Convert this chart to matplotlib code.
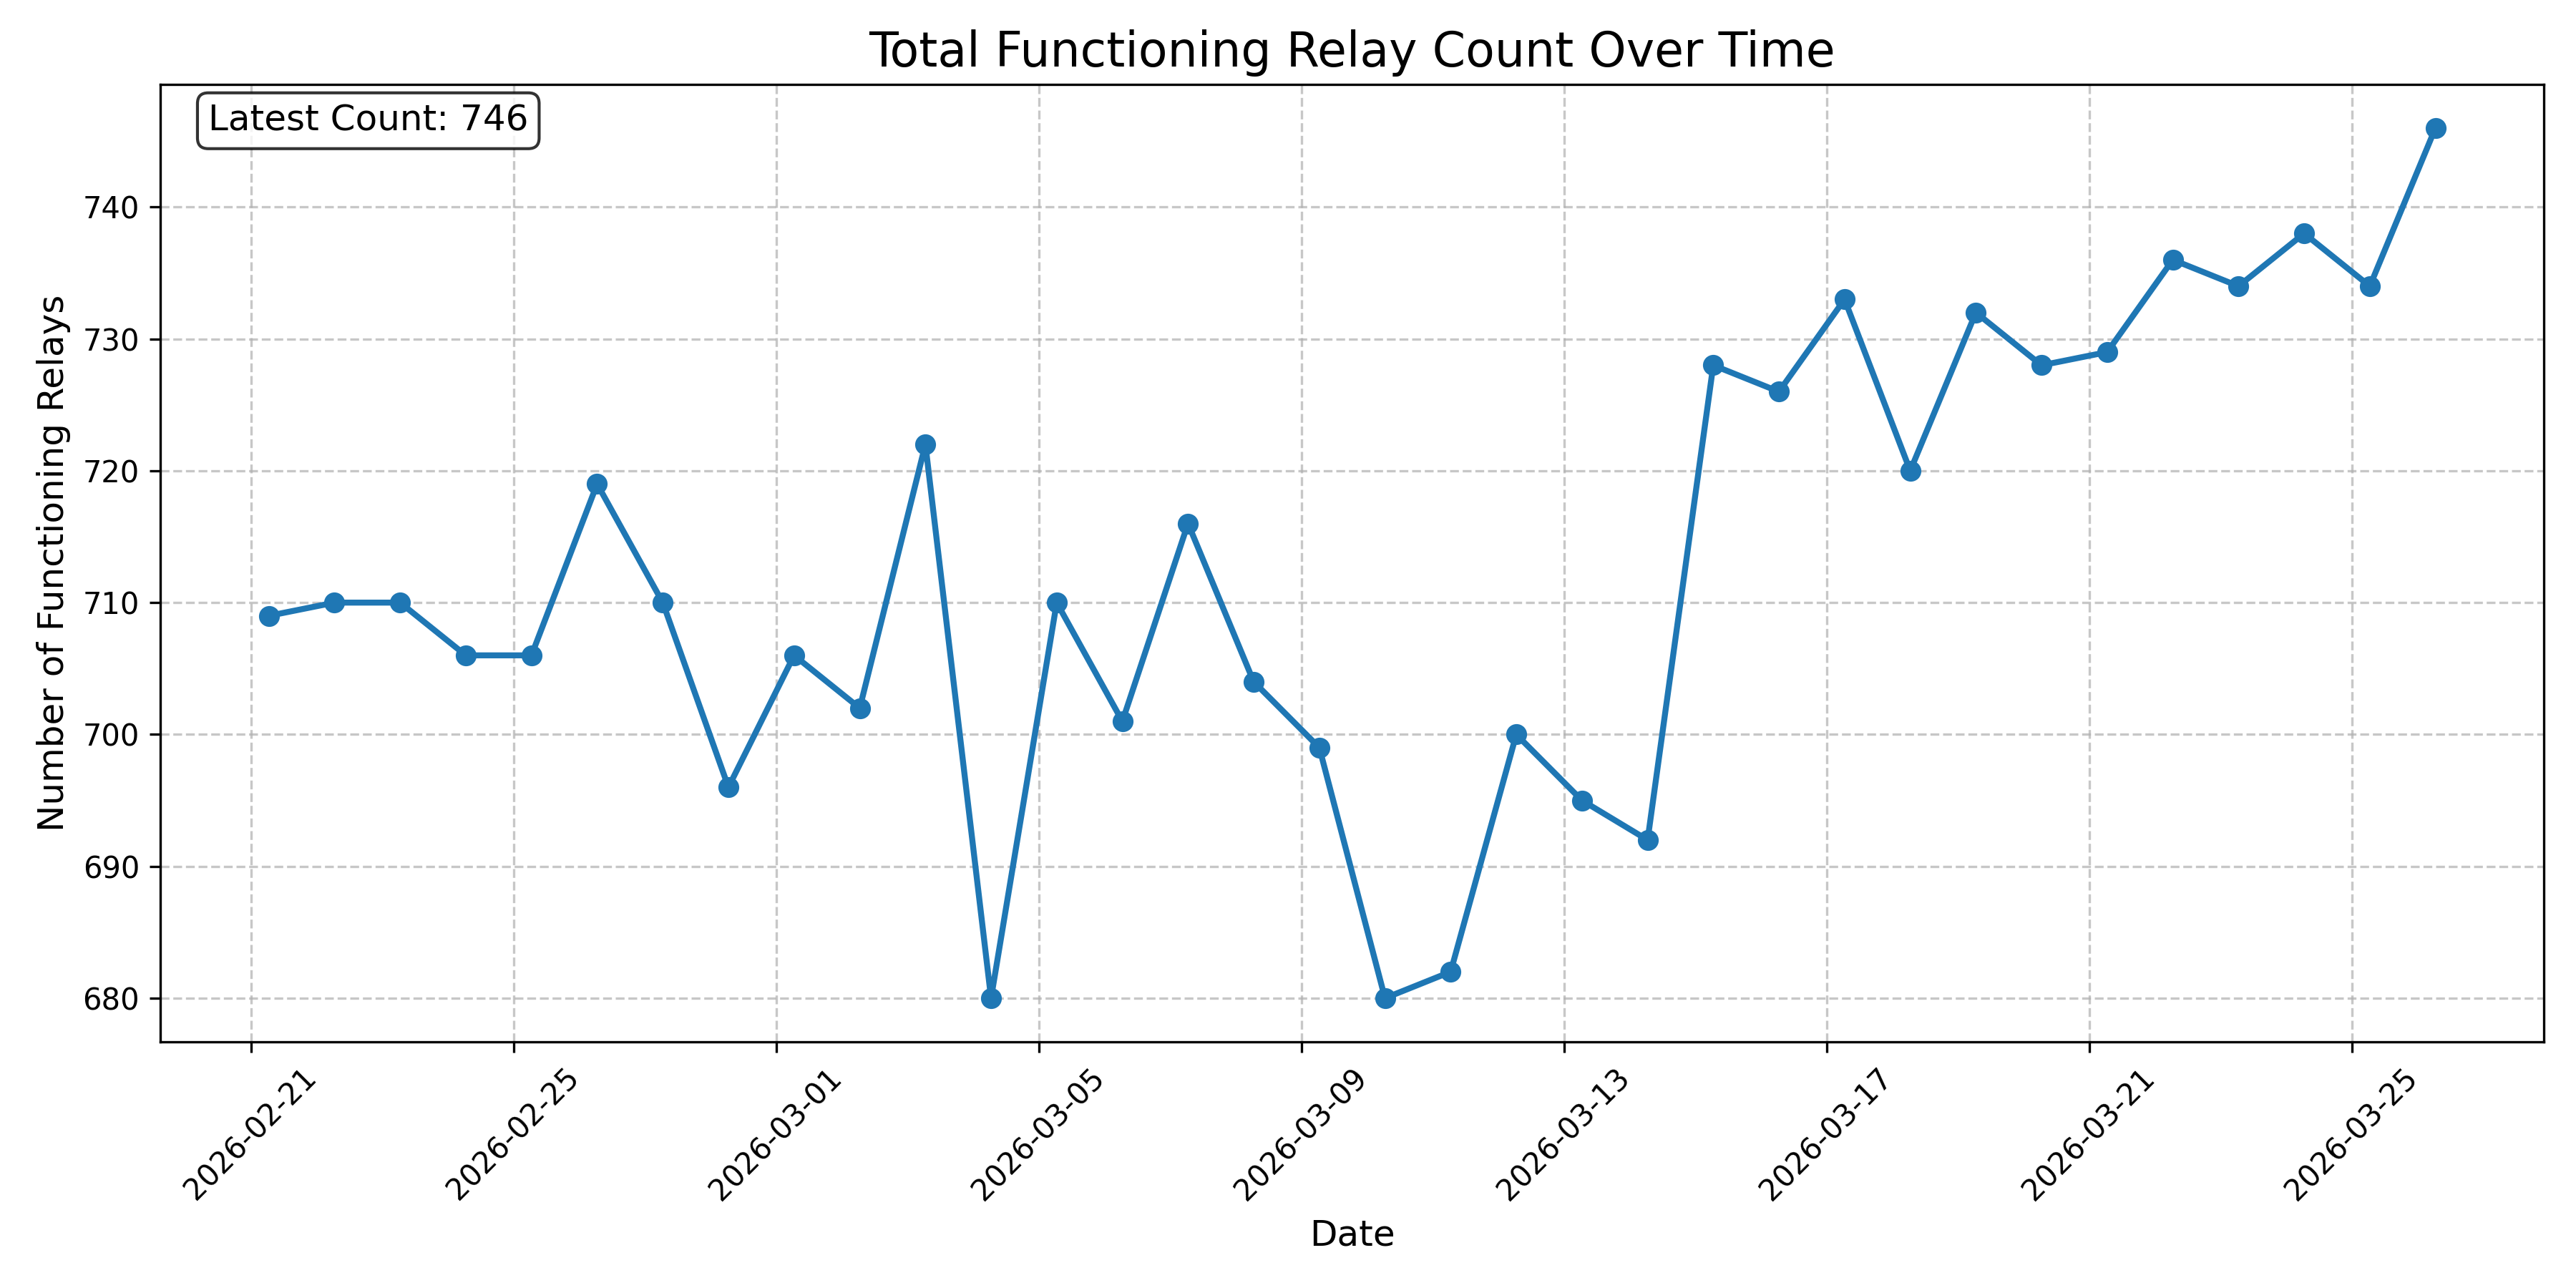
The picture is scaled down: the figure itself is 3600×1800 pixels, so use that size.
import matplotlib
matplotlib.use('Agg')
import matplotlib.pyplot as plt
import matplotlib.dates as mdates
import pandas as pd

# daily snapshots, taken in the morning
start_date = '2026-02-21 06:30'
relay_counts = [709, 710, 710, 706, 706, 719, 710, 696, 706, 702,
                722, 680, 710, 701, 716, 704, 699, 680, 682, 700,
                695, 692, 728, 726, 733, 720, 732, 728, 729, 736,
                734, 738, 734, 746]

dates = pd.date_range(start=start_date, periods=len(relay_counts), freq='D')

fig, ax = plt.subplots(figsize=(12, 6))
ax.plot(dates, relay_counts, marker='o', linestyle='-', linewidth=2, markersize=6)

ax.set_title('Total Functioning Relay Count Over Time', fontsize=16)
ax.set_xlabel('Date', fontsize=12)
ax.set_ylabel('Number of Functioning Relays', fontsize=12)
ax.grid(True, linestyle='--', alpha=0.7)

ax.xaxis.set_major_formatter(mdates.DateFormatter('%Y-%m-%d'))
plt.xticks(rotation=45)

ax.text(0.02, 0.98, f'Latest Count: {relay_counts[-1]}', transform=ax.transAxes,
        fontsize=12, verticalalignment='top',
        bbox=dict(boxstyle='round', facecolor='white', alpha=0.8))

plt.tight_layout()
plt.savefig('out.png', dpi=300)
